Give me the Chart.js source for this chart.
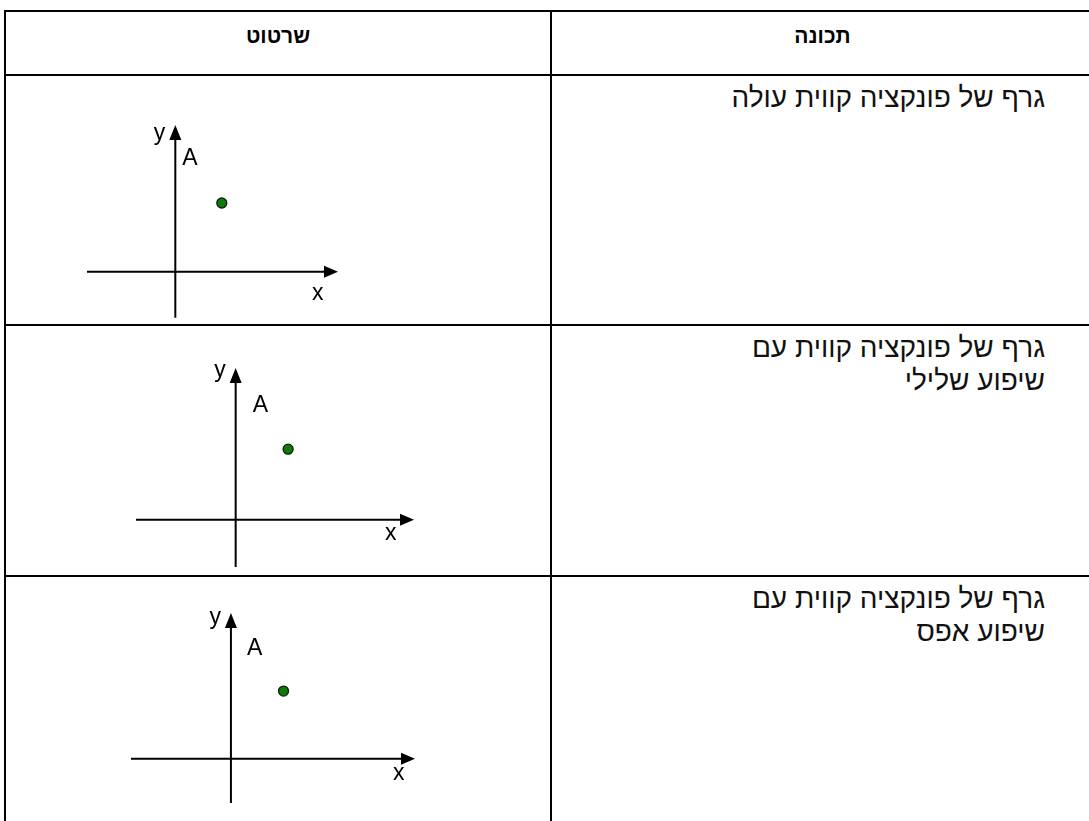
<!DOCTYPE html>
<html lang="he">
<head>
<meta charset="utf-8">
<title>תכונה / שרטוט</title>
<script src="https://cdn.jsdelivr.net/npm/chart.js@4.4.1/dist/chart.umd.min.js"></script>
<style>
  html, body { margin: 0; padding: 0; background: #fff; overflow: hidden; }
  body { width: 1089px; height: 821px; position: relative; font-family: "Liberation Sans", Arial, "DejaVu Sans", sans-serif; }
  .sheet {
    position: absolute; left: 4px; top: 10px;
    display: grid;
    grid-template-columns: 546px 543px;
    grid-template-rows: 64px 250px 251px 260px;
    border-top: 2px solid #000; border-left: 2px solid #000;
  }
  .cell { position: relative; box-sizing: border-box; border-right: 2px solid #000; border-bottom: 2px solid #000; }
  .head { font-weight: bold; font-size: 21px; text-align: center; padding-top: 12px; direction: rtl; }
  .text { direction: rtl; text-align: right; font-size: 28px; line-height: 33px; padding: 5px 48px 0 0; color: #111; }
  .chartbox { position: absolute; left: 0; top: 0; right: 0; bottom: 0; }
</style>
</head>
<body>
<div class="sheet" id="sheet"></div>

<script>
// כותרות הטבלה
const headers = ['שרטוט', 'תכונה'];

// תיאור כל שורה (שורות הטקסט כפי שהן בתמונה)
const rowLines = [
  ['גרף של פונקציה קווית עולה'],
  ['גרף של פונקציה קווית עם', 'שיפוע שלילי'],
  ['גרף של פונקציה קווית עם', 'שיפוע אפס']
];

// הנקודה A בכל שרטוט
const pointX = [1, 1, 1];
const pointY = [1.5, 1.35, 1.3];

// תחום הצירים בכל שרטוט
const xMin = [-1.9, -1.9, -1.9];
const xMax = [3.5, 3.4, 3.5];
const yMin = [-1, -0.9, -0.85];
const yMax = [3.2, 2.9, 2.8];

const axisNames = ['x', 'y'];
const pointName = 'A';

// מיקום אזור הגרף בתוך התא וההזזות של התוויות
const layouts = [
  { pad: { left: 81, right: 212, top: 49, bottom: 4 }, yDy: 15, aDx: 7, aDy: 40, xDx: -26, xDy: 28 },
  { pad: { left: 130, right: 136, top: 42, bottom: 8 }, yDy: 9, aDx: 17, aDy: 44, xDx: -29, xDy: 20 },
  { pad: { left: 125, right: 135, top: 36, bottom: 32 }, yDy: 11, aDx: 16, aDy: 42, xDx: -22, xDy: 21 }
];

// ציור הצירים עם החצים והתוויות
const axesArrows = {
  id: 'axesArrows',
  beforeDatasetsDraw(chart, args, opts) {
    const ctx = chart.ctx;
    const x = chart.scales.x, y = chart.scales.y;
    const x0 = x.getPixelForValue(0), y0 = y.getPixelForValue(0);
    const xl = x.getPixelForValue(x.min), xr = x.getPixelForValue(x.max);
    const yb = y.getPixelForValue(y.min), yt = y.getPixelForValue(y.max);
    ctx.save();
    ctx.strokeStyle = '#000';
    ctx.fillStyle = '#000';
    ctx.lineWidth = 2;
    ctx.beginPath();
    ctx.moveTo(xl, y0); ctx.lineTo(xr - 10, y0);
    ctx.moveTo(x0, yb); ctx.lineTo(x0, yt + 10);
    ctx.stroke();
    ctx.beginPath();
    ctx.moveTo(xr, y0); ctx.lineTo(xr - 14, y0 - 6); ctx.lineTo(xr - 14, y0 + 6);
    ctx.closePath(); ctx.fill();
    ctx.beginPath();
    ctx.moveTo(x0, yt); ctx.lineTo(x0 - 6, yt + 15); ctx.lineTo(x0 + 6, yt + 15);
    ctx.closePath(); ctx.fill();

    ctx.font = '23px "Liberation Sans", Arial, sans-serif';
    ctx.textBaseline = 'alphabetic';
    ctx.textAlign = 'right';
    ctx.fillText(axisNames[1], x0 - 10, yt + opts.yDy);
    ctx.textAlign = 'left';
    ctx.fillText(pointName, x0 + opts.aDx, yt + opts.aDy);
    ctx.fillText(axisNames[0], xr + opts.xDx, y0 + opts.xDy);
    ctx.restore();
  }
};

const sheet = document.getElementById('sheet');
headers.forEach(h => {
  const c = document.createElement('div');
  c.className = 'cell head';
  c.textContent = h;
  sheet.appendChild(c);
});

rowLines.forEach((lines, i) => {
  const drawCell = document.createElement('div');
  drawCell.className = 'cell';
  const box = document.createElement('div');
  box.className = 'chartbox';
  const canvas = document.createElement('canvas');
  box.appendChild(canvas);
  drawCell.appendChild(box);
  sheet.appendChild(drawCell);

  const textCell = document.createElement('div');
  textCell.className = 'cell text';
  textCell.innerHTML = lines.map(l => '<div>' + l + '</div>').join('');
  sheet.appendChild(textCell);

  const lay = layouts[i];
  new Chart(canvas, {
    type: 'scatter',
    data: {
      datasets: [{
        label: pointName,
        data: [{ x: pointX[i], y: pointY[i] }],
        backgroundColor: '#0c7a0c',
        borderColor: '#0a200a',
        borderWidth: 1.3,
        pointRadius: 5
      }]
    },
    options: {
      animation: false,
      responsive: true,
      maintainAspectRatio: false,
      layout: { padding: lay.pad },
      plugins: {
        legend: { display: false },
        tooltip: { enabled: false },
        axesArrows: lay
      },
      scales: {
        x: { type: 'linear', min: xMin[i], max: xMax[i], display: false },
        y: { type: 'linear', min: yMin[i], max: yMax[i], display: false }
      }
    },
    plugins: [axesArrows]
  });
});
</script>
</body>
</html>
